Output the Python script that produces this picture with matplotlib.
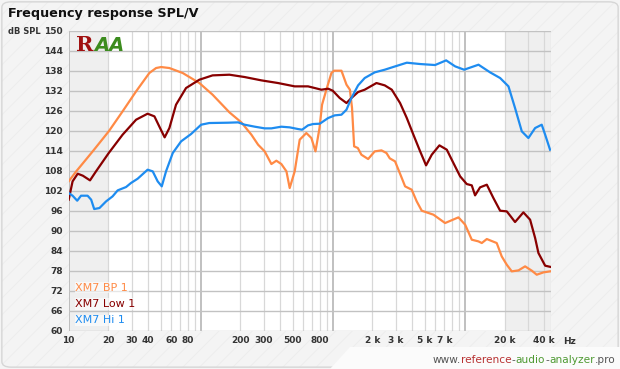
import numpy as np
import matplotlib.pyplot as plt
from matplotlib.patches import FancyBboxPatch, Polygon

# XM7 BP 1 (orange)
bp_freq = [10, 11.4, 15.2, 20.1, 25.6, 32.4, 40.8, 45.9, 50.1, 57.9, 73.1, 97.7, 123, 165,
           203, 242, 272, 305, 343, 374, 408, 446, 472, 515, 562, 631, 689, 740, 794, 830,
           895, 977, 1023, 1164, 1271, 1349, 1400, 1452, 1549, 1648, 1854, 2080, 2339, 2553,
           2704, 2965, 3334, 3532, 3963, 4325, 4721, 5794, 7096, 8954, 10070, 11300, 12680,
           13460, 14690, 17460, 19050, 20800, 22700, 25530, 28640, 32210, 35080, 39450, 44260]
bp_spl = [104.8, 107.8, 113.8, 119.8, 125.8, 131.8, 137.3, 138.8, 139.1, 138.8, 137.3, 134.3, 130.8, 125.5,
          122.5, 118.8, 115.8, 113.8, 110.0, 111.0, 110.0, 107.8, 102.8, 107.8, 117.3, 119.3, 117.8, 113.8, 120.8, 127.8,
          132.3, 137.3, 138.0, 138.0, 133.8, 132.3, 126.8, 115.3, 114.8, 112.8, 111.5, 113.8, 114.1, 113.3,
          111.7, 110.8, 105.8, 103.3, 102.3, 98.8, 96.0, 94.8, 92.3, 94.0, 91.8, 87.3, 86.8,
          86.3, 87.5, 86.3, 82.3, 79.8, 77.8, 78.1, 79.3, 78.0, 76.8, 77.5, 77.8]

# XM7 Low 1 (dark red)
low_freq = [10, 10.7, 11.7, 12.8, 14.5, 16.1, 20.1, 25.6, 32.4, 39.6, 44.6, 49.2, 53.3, 57.9,
            65.0, 77.4, 97.7, 123, 165, 215, 288, 385, 515, 650, 731, 820, 923, 1000, 1130,
            1271, 1384, 1556, 1746, 2143, 2477, 2800, 3236, 3639, 4083, 4592, 5093, 5623, 6427,
            7311, 8204, 9226, 10350, 11300, 11970, 13060, 14690, 16480, 18530, 20800, 22280,
            24040, 27800, 31260, 34120, 36140, 40640, 45080]
low_spl = [99.3, 104.8, 107.1, 106.5, 105.1, 107.8, 113.3, 118.8, 123.3, 125.1, 124.3, 120.8, 118.0, 120.8,
           127.8, 132.8, 135.3, 136.6, 136.8, 136.1, 135.1, 134.3, 133.3, 133.3, 132.8, 132.3, 132.6, 132.0, 129.8,
           128.3, 129.8, 131.6, 132.3, 134.3, 133.6, 132.3, 128.3, 123.8, 118.8, 113.8, 109.6, 112.8, 115.6,
           114.3, 110.3, 106.3, 104.0, 103.6, 100.6, 103.0, 103.8, 99.8, 96.0, 95.8, 94.3,
           92.6, 95.5, 93.3, 87.8, 83.3, 79.5, 79.1]

# XM7 Hi 1 (blue)
hi_freq = [10, 10.7, 11.6, 12.4, 13.9, 14.8, 15.6, 17.1, 19.2, 21.5, 23.5, 27.2, 29.6, 33.3,
           39.6, 43.3, 47.2, 50.7, 54.6, 61.4, 71.0, 84.5, 100.7, 116, 161, 192, 215, 257, 305,
           343, 408, 472, 546, 586, 650, 710, 798, 923, 1035, 1164, 1271, 1384, 1556, 1746,
           2080, 2477, 2864, 3639, 4592, 5957, 7228, 8453, 9886, 12710, 15560, 18530, 21430,
           24040, 27040, 30340, 34120, 38280, 40640, 44260]
hi_spl = [101.3, 100.5, 99.0, 100.5, 100.5, 99.3, 96.5, 96.8, 98.8, 100.3, 102.1, 103.1, 104.3, 105.6,
          108.3, 107.8, 104.8, 103.3, 107.8, 113.3, 116.8, 119.0, 121.8, 122.3, 122.4, 122.5, 121.8, 121.2, 120.7,
          120.7, 121.2, 121.0, 120.5, 120.3, 121.6, 122.0, 122.1, 123.8, 124.6, 124.8, 126.3, 129.8, 133.6, 135.8,
          137.5, 138.3, 139.1, 140.4, 140.0, 139.7, 141.1, 139.3, 138.3, 139.8, 137.5, 135.8, 133.3,
          126.8, 119.8, 117.8, 120.8, 121.8, 118.8, 114.3]

series_names = ["XM7 BP 1", "XM7 Low 1", "XM7 Hi 1"]
series_colors = ["#ff8a45", "#880000", "#1e8cf0"]

tick_freqs = [10, 20, 30, 40, 60, 80, 200, 300, 500, 800, 2000, 3000, 5000, 7000, 20000, 40000]
tick_labels = ["10", "20", "30", "40", "60", "80", "200", "300", "500", "800",
               "2 k", "3 k", "5 k", "7 k", "20 k", "40 k"]
y_ticks = list(range(60, 151, 6))

plt.rcParams["hatch.color"] = "#ebebeb"
plt.rcParams["hatch.linewidth"] = 0.5

fig = plt.figure(figsize=(6.2, 3.69), dpi=100)
fig.patch.set_facecolor("#f4f4f4")
# faint diagonal stripes + rounded border
stripes = FancyBboxPatch((0.003, 0.005), 0.994, 0.99, boxstyle="round,pad=0,rounding_size=0.015",
                         transform=fig.transFigure, facecolor="#f4f4f4", edgecolor="#ebebeb",
                         hatch="//", lw=0, zorder=-10)
border = FancyBboxPatch((0.003, 0.005), 0.994, 0.99, boxstyle="round,pad=0,rounding_size=0.015",
                        transform=fig.transFigure, facecolor="none", edgecolor="#d6d6d6",
                        lw=1.0, zorder=-9)
fig.patches.extend([stripes, border])

ax = fig.add_axes([68.7 / 620, 1 - 330.7 / 369, (551 - 68.7) / 620, 300 / 369])
ax.set_facecolor("white")
ax.set_xscale("log")
ax.set_xlim(10, 45000)
ax.set_ylim(60, 150)

# shaded areas outside audible band
ax.axvspan(10, 20, color="#efefef", zorder=0, lw=0)
ax.axvspan(20000, 45000, color="#efefef", zorder=0, lw=0)

# grid
for dec in [10, 100, 1000, 10000]:
    for m in range(1, 10):
        f = dec * m
        if f > 45000:
            continue
        if m == 1:
            ax.axvline(f, color="#b5b5b5", lw=1.2, zorder=1)
        else:
            ax.axvline(f, color="#d8d8d8", lw=0.9, zorder=1)
for y in y_ticks:
    ax.axhline(y, color="#c2c2c2", lw=1.0, zorder=1)
ax.axvline(45000, color="#d8d8d8", lw=0.9, zorder=1)

for sp in ax.spines.values():
    sp.set_visible(False)

ax.plot(bp_freq, bp_spl, color=series_colors[0], lw=1.6, zorder=3, solid_joinstyle="round")
ax.plot(low_freq, low_spl, color=series_colors[1], lw=1.6, zorder=3, solid_joinstyle="round")
ax.plot(hi_freq, hi_spl, color=series_colors[2], lw=1.6, zorder=3, solid_joinstyle="round")

ax.set_xticks(tick_freqs)
ax.set_xticklabels(tick_labels)
ax.xaxis.set_minor_locator(plt.NullLocator())
ax.set_yticks(y_ticks)
ax.set_yticklabels([str(v) for v in y_ticks])
ax.tick_params(length=0, labelsize=6.5, colors="#333333", pad=4)
for lab in ax.get_xticklabels() + ax.get_yticklabels():
    lab.set_fontweight("bold")

# legend as coloured text
for i, (name, col) in enumerate(zip(series_names, series_colors)):
    ax.text(0.014, 0.143 - i * 0.054, name, transform=ax.transAxes, color=col, fontsize=8,
            va="center", ha="left", zorder=5,
            bbox=dict(facecolor="white", edgecolor="none", alpha=0.6, pad=0.5))

# logo
r = ax.text(0.016, 0.985, "R", transform=ax.transAxes, color="#a01010", fontsize=15,
            fontweight="bold", va="top", ha="left", family="DejaVu Serif", zorder=5)
ax.annotate("AA", xy=(1.0, 0.0), xycoords=r, color="#3c8c1e", fontsize=14,
            fontweight="bold", fontstyle="italic", va="bottom", ha="left", zorder=5)

fig.text(8 / 620, 1 - 14 / 369, "Frequency response SPL/V", fontsize=9.2, fontweight="bold",
         color="#111111", va="center", ha="left")
fig.text(8 / 620, 1 - 31 / 369, "dB SPL", fontsize=6, fontweight="bold",
         color="#333333", va="center", ha="left")
fig.text(570 / 620, 1 - 341 / 369, "Hz", fontsize=6.5, fontweight="bold",
         color="#333333", va="center", ha="center")

# watermark tab
tab = Polygon([(330 / 620, 0), (350 / 620, 22 / 369), (1, 22 / 369), (1, 0)],
              closed=True, transform=fig.transFigure, facecolor="#fbfbfb", edgecolor="none", zorder=-5)
fig.patches.append(tab)
parts = [("www.", "#555555"), ("reference", "#b83232"), ("-", "#555555"), ("audio", "#4f9a33"),
         ("-", "#555555"), ("analyzer", "#4f9a33"), (".pro", "#555555")]
prev = fig.text(433 / 620, 1 - 360 / 369, parts[0][0], fontsize=7.6, color=parts[0][1],
                va="center", ha="left")
for s, c in parts[1:]:
    prev = ax.annotate(s, xy=(1, 0), xycoords=prev, fontsize=7.6, color=c,
                       va="bottom", ha="left", annotation_clip=False)

fig.savefig("out.png", dpi=100, facecolor=fig.get_facecolor())
